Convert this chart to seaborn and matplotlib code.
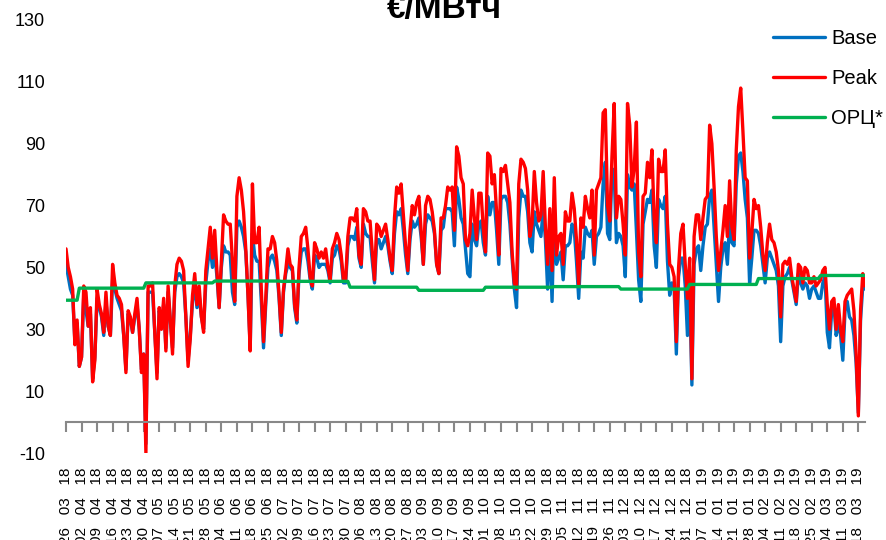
#!/usr/bin/env python3
"""
Цены Base / Peak и ОРЦ, €/МВтч, 26.03.18 - 21.03.19 (дневные значения)
"""

import numpy as np
import pandas as pd
import matplotlib
matplotlib.use('Agg')
import matplotlib.pyplot as plt
import seaborn as sns

# Дневные цены Peak, €/МВтч (с 26.03.2018)
peak = [
    56, 50, 47, 43, 25, 33, 18, 21, 44, 42,
    31, 37, 13, 20, 43, 38, 35, 29, 42, 31,
    28, 51, 45, 41, 40, 38, 28, 16, 36, 34,
    29, 35, 40, 30, 16, 22, -10, 44, 44, 45,
    29, 14, 37, 30, 40, 23, 44, 33, 22, 44,
    51, 53, 52, 49, 34, 18, 27, 41, 48, 38,
    44, 34, 29, 49, 56, 63, 53, 62, 49, 37,
    52, 67, 65, 64, 64, 52, 39, 73, 79, 75,
    68, 56, 41, 23, 77, 58, 58, 63, 43, 26,
    40, 56, 56, 60, 58, 52, 41, 29, 43, 49,
    56, 51, 50, 38, 33, 50, 60, 61, 63, 56,
    47, 44, 58, 56, 53, 55, 53, 56, 50, 46,
    56, 58, 61, 59, 54, 46, 46, 60, 66, 66,
    65, 69, 54, 51, 69, 68, 65, 65, 55, 46,
    64, 63, 60, 62, 64, 59, 53, 49, 66, 76,
    74, 77, 67, 57, 49, 62, 70, 67, 71, 73,
    62, 51, 70, 73, 72, 68, 62, 51, 48, 66,
    66, 70, 76, 75, 76, 62, 89, 86, 79, 77,
    59, 57, 61, 75, 66, 59, 74, 74, 63, 55,
    87, 86, 77, 80, 68, 54, 82, 81, 83, 77,
    71, 55, 45, 43, 77, 85, 84, 82, 75, 60,
    64, 81, 71, 65, 67, 81, 63, 51, 69, 49,
    79, 54, 60, 61, 51, 68, 65, 65, 74, 69,
    59, 44, 66, 63, 73, 69, 66, 75, 54, 75,
    77, 79, 100, 101, 70, 65, 86, 103, 66, 73,
    72, 64, 54, 103, 96, 76, 82, 97, 55, 47,
    73, 74, 84, 79, 88, 66, 58, 85, 81, 81,
    88, 64, 51, 50, 47, 26, 50, 61, 64, 51,
    40, 53, 14, 60, 67, 67, 59, 66, 72, 73,
    96, 90, 76, 60, 49, 55, 62, 70, 60, 78,
    63, 59, 88, 102, 108, 94, 79, 78, 53, 61,
    72, 69, 70, 63, 54, 49, 58, 64, 59, 58,
    55, 49, 34, 51, 52, 51, 53, 47, 43, 39,
    51, 50, 45, 50, 49, 45, 45, 47, 44, 45,
    46, 49, 50, 38, 30, 39, 40, 30, 38, 30,
    26, 39, 41, 42, 43, 36, 22, 2, 36, 48, 44,
]

# Дневные цены Base, €/МВтч
base = [
    51, 47, 43, 41, 26, 32, 18, 21, 41, 36,
    31, 35, 14, 21, 40, 37, 34, 28, 39, 31,
    28, 46, 43, 40, 38, 36, 28, 17, 35, 33,
    29, 34, 38, 30, 17, 22, -7, 42, 42, 42,
    29, 16, 36, 31, 38, 24, 42, 33, 24, 42,
    47, 48, 47, 45, 34, 20, 28, 39, 44, 37,
    41, 34, 30, 45, 52, 56, 50, 55, 47, 37,
    50, 57, 55, 55, 54, 42, 38, 63, 65, 63,
    60, 55, 41, 24, 61, 54, 52, 52, 39, 24,
    38, 50, 53, 54, 52, 49, 40, 28, 42, 48,
    51, 50, 49, 37, 32, 48, 55, 56, 56, 52,
    46, 43, 54, 53, 50, 51, 51, 51, 49, 45,
    53, 54, 57, 56, 52, 45, 45, 57, 60, 60,
    59, 63, 53, 50, 64, 61, 60, 60, 52, 45,
    59, 59, 56, 58, 60, 57, 52, 48, 61, 68,
    67, 69, 62, 54, 48, 59, 65, 63, 64, 66,
    60, 51, 64, 67, 66, 65, 61, 51, 48, 62,
    63, 69, 69, 69, 68, 57, 76, 72, 66, 64,
    56, 48, 47, 64, 59, 57, 64, 65, 58, 54,
    73, 67, 71, 71, 62, 51, 72, 73, 73, 71,
    64, 53, 43, 37, 66, 75, 73, 73, 68, 58,
    55, 68, 64, 62, 60, 69, 59, 43, 60, 39,
    68, 51, 53, 55, 46, 57, 57, 58, 64, 62,
    52, 40, 55, 53, 63, 61, 60, 62, 51, 60,
    61, 63, 77, 84, 61, 59, 82, 80, 58, 61,
    60, 57, 47, 80, 76, 75, 77, 62, 46, 39,
    64, 68, 72, 71, 75, 57, 50, 72, 70, 69,
    73, 52, 41, 45, 43, 22, 47, 53, 53, 44,
    28, 43, 12, 51, 56, 57, 49, 57, 63, 64,
    73, 75, 63, 51, 39, 50, 56, 58, 51, 65,
    58, 57, 77, 86, 87, 81, 72, 66, 45, 53,
    62, 62, 61, 57, 51, 45, 53, 55, 53, 51,
    49, 44, 26, 44, 47, 48, 50, 46, 42, 38,
    48, 45, 43, 45, 44, 40, 43, 44, 42, 40,
    40, 45, 47, 29, 24, 36, 38, 28, 32, 28,
    20, 36, 39, 34, 33, 28, 19, 3, 33, 44, 43,
]

# ОРЦ* - одно значение на месяц
orc_months = ['2018-03', '2018-04', '2018-05', '2018-06', '2018-07', '2018-08', '2018-09',
              '2018-10', '2018-11', '2018-12', '2019-01', '2019-02', '2019-03']
orc_values = [39.4, 43.3, 45.0, 45.6, 45.5, 43.6, 42.6, 43.6, 43.8, 43.0, 44.5, 46.4, 47.4]

start_date = '2018-03-26'

dates = pd.date_range(start_date, periods=len(peak), freq='D')
orc_map = dict(zip(orc_months, orc_values))
df = pd.DataFrame({
    'day': np.arange(len(peak)),
    'Base': base,
    'Peak': peak,
    'ОРЦ*': [orc_map[d.strftime('%Y-%m')] for d in dates],
})

sns.set_style('white')
plt.rcParams['font.family'] = ['Liberation Sans', 'DejaVu Sans']
plt.rcParams['axes.unicode_minus'] = False
plt.rcParams['text.color'] = 'black'

fig = plt.figure(figsize=(8.86, 5.4), dpi=100)
ax = fig.add_axes([66 / 886, 87 / 540, 799 / 886, 433 / 540])

colors = {'Base': '#0070C0', 'Peak': '#FF0000', 'ОРЦ*': '#00B050'}
for name in ['Base', 'Peak', 'ОРЦ*']:
    sns.lineplot(data=df, x='day', y=name, ax=ax, color=colors[name],
                 linewidth=2.4, label=name)

ax.set_xlim(0, 360)
ax.set_ylim(-10, 130)
ax.set_yticks(np.arange(-10, 131, 20))
ax.set_xticks(df['day'][::7])
ax.set_xticklabels(list(dates[::7].strftime('%d   %m   %y')))
ax.set_xlabel('')
ax.set_ylabel('')

# ось X проходит через ноль, подписи - внизу
for side in ['left', 'top', 'right']:
    ax.spines[side].set_visible(False)
ax.spines['bottom'].set_position(('data', 0))
ax.spines['bottom'].set_color('#888888')
ax.spines['bottom'].set_linewidth(1.5)
ax.tick_params(axis='x', bottom=True, direction='out', length=7, width=1.5,
               color='#888888', pad=26, labelsize=11, labelrotation=90,
               labelcolor='black')
ax.tick_params(axis='y', left=False, length=0, pad=15, labelsize=13,
               labelcolor='black')

ax.legend(loc='upper left', bbox_to_anchor=(773 / 886, 1 - 29 / 540),
          bbox_transform=fig.transFigure, frameon=False, fontsize=14.5,
          handlelength=2.6, handletextpad=0.3, labelspacing=1.05, borderpad=0,
          borderaxespad=0)

fig.text(0.502, 1 - 18 / 540, '€/МВтч', ha='center', va='baseline',
         fontsize=24, fontweight='bold')

fig.savefig('out.png', dpi=100)
